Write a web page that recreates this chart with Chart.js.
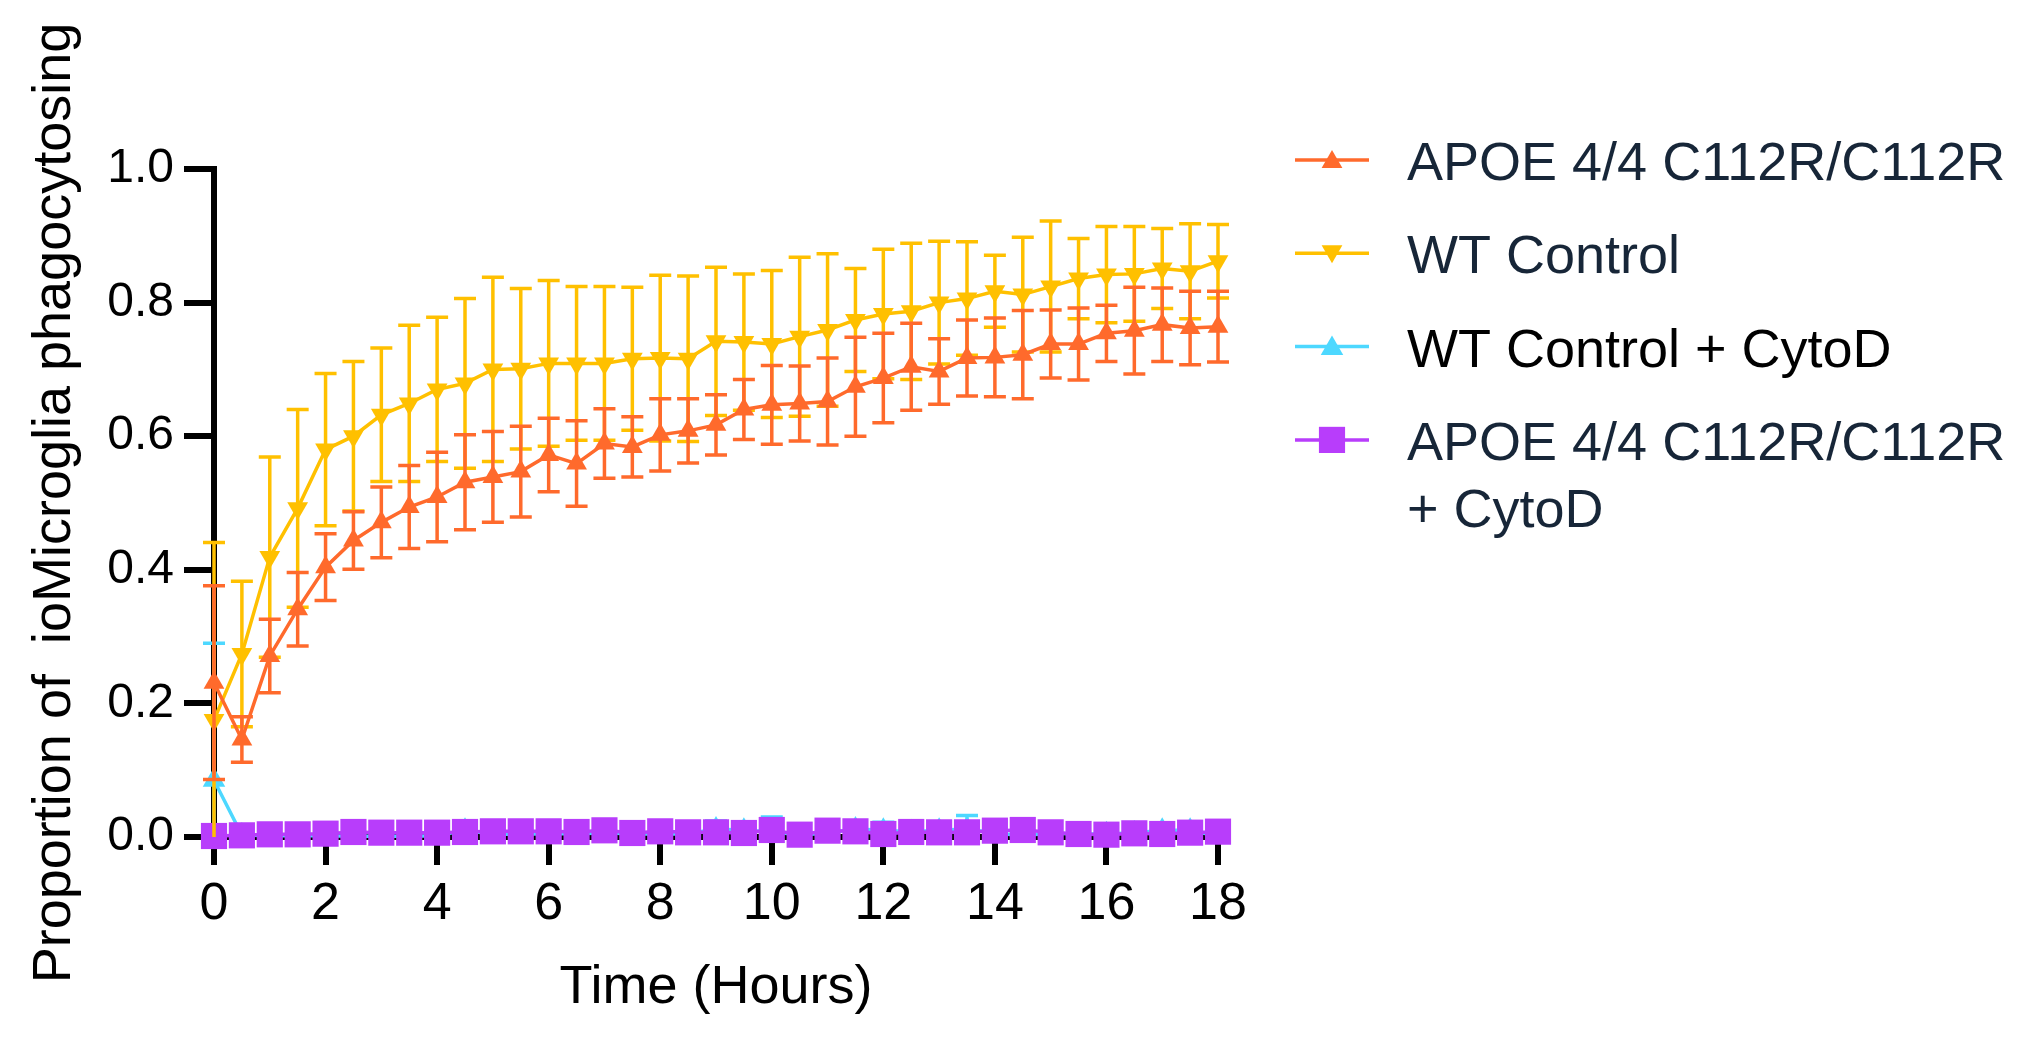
<!DOCTYPE html>
<html>
<head>
<meta charset="utf-8">
<script src="https://cdn.jsdelivr.net/npm/chart.js@4.4.1/dist/chart.umd.min.js"></script>
<style>
  html, body { margin: 0; padding: 0; background: #fff; }
  #wrap { width: 2039px; height: 1040px; }
</style>
</head>
<body>
<div id="wrap"><canvas id="chart" width="2039" height="1040"></canvas></div>
<script>
// time points (hours)
const hours = [0, 0.5, 1, 1.5, 2, 2.5, 3, 3.5, 4, 4.5, 5, 5.5, 6, 6.5, 7, 7.5, 8, 8.5, 9,
  9.5, 10, 10.5, 11, 11.5, 12, 12.5, 13, 13.5, 14, 14.5, 15, 15.5, 16, 16.5, 17, 17.5, 18];

const seriesNames = ['APOE 4/4 C112R/C112R', 'WT Control', 'WT Control + CytoD', 'APOE 4/4 C112R/C112R\n+ CytoD'];

// APOE 4/4 C112R/C112R
const apoeMean = [0.231, 0.146, 0.271, 0.341, 0.404, 0.444, 0.471, 0.494, 0.509, 0.531, 0.539, 0.547, 0.572,
  0.559, 0.589, 0.584, 0.602, 0.608, 0.617, 0.640, 0.647, 0.649, 0.652, 0.674, 0.687, 0.704, 0.697,
  0.717, 0.718, 0.722, 0.738, 0.738, 0.754, 0.758, 0.767, 0.762, 0.764];
const apoeSd = [0.145, 0.034, 0.055, 0.055, 0.050, 0.043, 0.053, 0.062, 0.067, 0.071, 0.068, 0.068, 0.055,
  0.064, 0.052, 0.045, 0.054, 0.048, 0.045, 0.045, 0.059, 0.056, 0.065, 0.074, 0.067, 0.065, 0.049,
  0.057, 0.059, 0.066, 0.051, 0.054, 0.042, 0.065, 0.055, 0.055, 0.053];

// WT Control
const wtMean = [0.175, 0.274, 0.419, 0.492, 0.580, 0.600, 0.632, 0.649, 0.670, 0.679, 0.700, 0.701, 0.709,
  0.709, 0.709, 0.716, 0.717, 0.716, 0.742, 0.741, 0.738, 0.749, 0.759, 0.774, 0.783, 0.787, 0.800,
  0.806, 0.817, 0.812, 0.824, 0.836, 0.842, 0.843, 0.851, 0.847, 0.862];
const wtSd = [0.266, 0.109, 0.150, 0.148, 0.114, 0.112, 0.100, 0.117, 0.108, 0.127, 0.138, 0.120, 0.124,
  0.115, 0.115, 0.107, 0.124, 0.124, 0.111, 0.102, 0.110, 0.119, 0.114, 0.077, 0.097, 0.102, 0.092,
  0.085, 0.054, 0.086, 0.098, 0.060, 0.072, 0.071, 0.060, 0.071, 0.055];

// WT Control + CytoD
const wtCytoMean = [0.085, 0.003, 0.002, 0.002, 0.002, 0.001, 0.001, 0.001, 0.002, 0.010, 0.004, 0.004, 0.005,
  0.005, 0.006, 0.005, 0.004, 0.005, 0.012, 0.010, 0.008, 0.003, 0.006, 0.012, 0.010, 0.008, 0.010,
  0.012, 0.006, 0.002, 0.006, 0.004, 0.005, 0.006, 0.010, 0.010, 0.001];
const wtCytoSd = [0.205, 0.008, 0.008, 0.006, 0.006, 0.006, 0.006, 0.006, 0.008, 0.012, 0.008, 0.008, 0.008,
  0.008, 0.008, 0.008, 0.008, 0.008, 0.012, 0.012, 0.022, 0.008, 0.008, 0.012, 0.012, 0.008, 0.010,
  0.020, 0.008, 0.008, 0.008, 0.008, 0.008, 0.008, 0.010, 0.010, 0.008];

// APOE 4/4 C112R/C112R + CytoD
const apoeCytoMean = [0.0015, 0.0025, 0.004, 0.004, 0.005, 0.0075, 0.0065, 0.0065, 0.0065, 0.0075, 0.0085, 0.0085, 0.0085,
  0.0075, 0.010, 0.006, 0.0085, 0.007, 0.007, 0.006, 0.0105, 0.0035, 0.0095, 0.0085, 0.0045, 0.0075, 0.007,
  0.007, 0.0095, 0.0105, 0.007, 0.0045, 0.0035, 0.0055, 0.0045, 0.0065, 0.008];
const apoeCytoSd = [0.004, 0.004, 0.004, 0.004, 0.004, 0.004, 0.004, 0.004, 0.004, 0.004, 0.004, 0.004, 0.004,
  0.004, 0.004, 0.004, 0.004, 0.004, 0.004, 0.004, 0.004, 0.004, 0.004, 0.004, 0.004, 0.004, 0.004,
  0.004, 0.004, 0.004, 0.004, 0.004, 0.004, 0.004, 0.004, 0.004, 0.004];

const xTicks = [0, 2, 4, 6, 8, 10, 12, 14, 16, 18];
const yTicks = [0, 0.2, 0.4, 0.6, 0.8, 1.0];

const FONT = '"Liberation Sans", Arial, Helvetica, sans-serif';
Chart.defaults.font.family = FONT;
Chart.defaults.color = '#000';

function pts(vals) {
  return hours.map((h, i) => ({ x: h, y: vals[i] }));
}

// mean +/- SD bars, drawn just under each dataset's own line and markers
const errorBars = {
  id: 'errorBars',
  beforeDatasetDraw(chart, args) {
    const ds = chart.data.datasets[args.index];
    if (!ds.sd) return;
    const yScale = chart.scales.y;
    const ctx = chart.ctx;
    const capHalf = 11;
    ctx.save();
    ctx.strokeStyle = ds.borderColor;
    ctx.lineWidth = 3.5;
    ctx.lineCap = 'butt';
    args.meta.data.forEach((pt, i) => {
      const v = ds.data[i].y;
      const s = ds.sd[i];
      const hi = yScale.getPixelForValue(v + s);
      const loVal = v - s;
      const lo = yScale.getPixelForValue(Math.max(0, loVal));
      ctx.beginPath();
      ctx.moveTo(pt.x, hi);
      ctx.lineTo(pt.x, lo);
      ctx.moveTo(pt.x - capHalf, hi);
      ctx.lineTo(pt.x + capHalf, hi);
      if (loVal >= 0) {
        ctx.moveTo(pt.x - capHalf, lo);
        ctx.lineTo(pt.x + capHalf, lo);
      }
      ctx.stroke();
    });
    ctx.restore();
  }
};

// legend to the right of the plot, label lines wrap on '\n'
const sideLegend = {
  id: 'sideLegend',
  afterDraw(chart) {
    const ctx = chart.ctx;
    const lineX0 = 1295, lineX1 = 1369, markX = 1332, textX = 1407;
    let y = 160;
    ctx.save();
    ctx.font = '54px ' + FONT;
    ctx.textBaseline = 'alphabetic';
    ctx.textAlign = 'left';
    chart.data.datasets.forEach((ds) => {
      ctx.strokeStyle = ds.borderColor;
      ctx.lineWidth = 3.5;
      ctx.beginPath();
      ctx.moveTo(lineX0, y);
      ctx.lineTo(lineX1, y);
      ctx.stroke();
      ctx.fillStyle = ds.backgroundColor;
      Chart.helpers.drawPoint(ctx, {
        pointStyle: ds.pointStyle,
        radius: ds.pointRadius,
        rotation: ds.pointRotation || 0,
        borderWidth: 0
      }, markX, y + (ds.pointStyle === 'triangle' ? (ds.pointRotation ? -2 : 2) : 0));
      ctx.fillStyle = ds.legendColor;
      ds.label.split('\n').forEach((line, k) => {
        ctx.fillText(line, textX, y + 20 + k * 67);
      });
      y += 93.3;
    });
    ctx.restore();
  }
};

new Chart(document.getElementById('chart'), {
  type: 'line',
  data: {
    datasets: [
      {
        label: seriesNames[0], data: pts(apoeMean), sd: apoeSd,
        borderColor: '#ff6a2c', backgroundColor: '#ff6a2c', legendColor: '#172638',
        pointStyle: 'triangle', pointRadius: 12, pointBorderWidth: 0,
        borderWidth: 3.5, order: 1, clip: false
      },
      {
        label: seriesNames[1], data: pts(wtMean), sd: wtSd,
        borderColor: '#ffc000', backgroundColor: '#ffc000', legendColor: '#172638',
        pointStyle: 'triangle', pointRotation: 180, pointRadius: 12, pointBorderWidth: 0,
        borderWidth: 3.5, order: 2, clip: false
      },
      {
        label: seriesNames[2], data: pts(wtCytoMean), sd: wtCytoSd,
        borderColor: '#4dd8ff', backgroundColor: '#4dd8ff', legendColor: '#000',
        pointStyle: 'triangle', pointRadius: 13, pointBorderWidth: 0,
        borderWidth: 3.5, order: 4, clip: false
      },
      {
        label: seriesNames[3], data: pts(apoeCytoMean), sd: apoeCytoSd,
        borderColor: '#b83dfb', backgroundColor: '#b83dfb', legendColor: '#172638',
        pointStyle: 'rect', pointRadius: 18.5, pointBorderWidth: 0,
        borderWidth: 3.5, order: 3, clip: false
      }
    ]
  },
  options: {
    responsive: false,
    animation: false,
    devicePixelRatio: 1,
    layout: { padding: { top: 169, right: 821, bottom: 0, left: 0 } },
    elements: { line: { tension: 0 } },
    plugins: {
      legend: { display: false },
      tooltip: { enabled: false }
    },
    scales: {
      x: {
        type: 'linear', min: 0, max: 18,
        afterFit: (s) => { s.height = 203; },
        afterBuildTicks: (s) => { s.ticks = xTicks.map(v => ({ value: v })); },
        border: { color: '#000', width: 6 },
        grid: { drawOnChartArea: false, color: '#000', lineWidth: 6, tickLength: 28 },
        ticks: { color: '#000', font: { size: 52 }, padding: 8, maxRotation: 0 },
        title: {
          display: true, text: 'Time (Hours)', color: '#000',
          font: { size: 54 }, padding: { top: 0, bottom: 19 }
        }
      },
      y: {
        min: 0, max: 1,
        afterFit: (s) => { s.width = 214; },
        afterBuildTicks: (s) => { s.ticks = yTicks.map(v => ({ value: v })); },
        border: { color: '#000', width: 6 },
        grid: { drawOnChartArea: false, color: '#000', lineWidth: 6, tickLength: 30 },
        ticks: { color: '#000', font: { size: 48 }, padding: 10, callback: (v) => v.toFixed(1) },
        title: {
          display: true, text: 'Proportion of  ioMicroglia phagocytosing', color: '#000',
          font: { size: 54 }, padding: { top: 23, bottom: 0 }
        }
      }
    }
  },
  plugins: [errorBars, sideLegend]
});
</script>
</body>
</html>
